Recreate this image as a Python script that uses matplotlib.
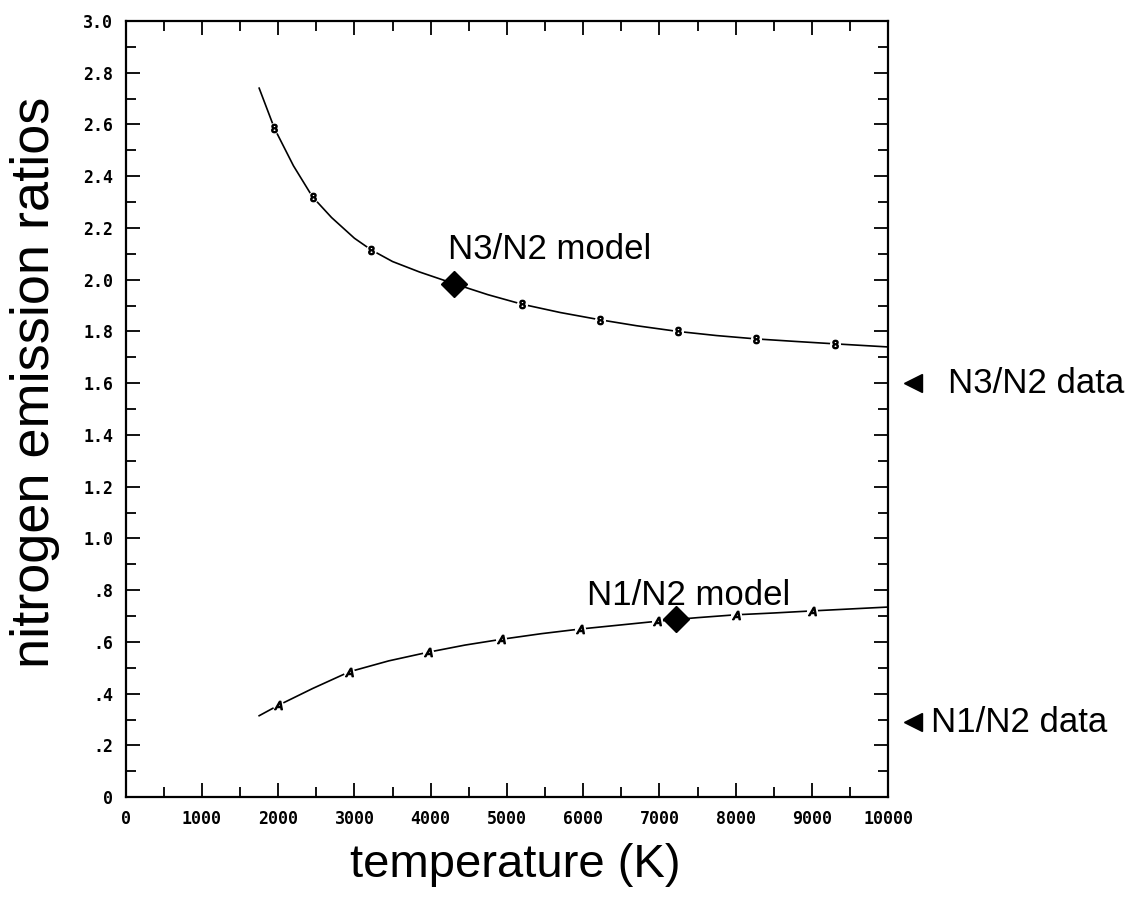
import matplotlib
matplotlib.use('Agg')
import matplotlib.pyplot as plt
from matplotlib.ticker import MultipleLocator, FixedLocator, FixedFormatter

# values
n3_temp = [1750, 1950, 2200, 2450, 2700, 3000, 3220, 3500, 3850, 4300, 4750, 5200,
           5700, 6220, 6700, 7240, 7750, 8270, 8800, 9300, 10000]
n3_ratio = [2.74, 2.585, 2.44, 2.32, 2.24, 2.16, 2.115, 2.07, 2.03, 1.985, 1.942, 1.905,
            1.873, 1.845, 1.822, 1.80, 1.784, 1.771, 1.761, 1.752, 1.74]
n3_mark_t = [1950, 2450, 3220, 5200, 6220, 7240, 8270, 9300]
n3_mark_r = [2.585, 2.32, 2.115, 1.905, 1.845, 1.80, 1.771, 1.752]

n1_temp = [1750, 2000, 2450, 2935, 3450, 3960, 4450, 4920, 5450, 5960, 6970, 7220,
           7500, 8000, 8500, 9000, 10000]
n1_ratio = [0.315, 0.355, 0.42, 0.485, 0.527, 0.56, 0.588, 0.61, 0.632, 0.65, 0.68, 0.687,
            0.694, 0.705, 0.712, 0.72, 0.735]
n1_mark_t = [2000, 2935, 3960, 4920, 5960, 6970, 8000, 9000]
n1_mark_r = [0.355, 0.485, 0.56, 0.61, 0.65, 0.68, 0.705, 0.72]

# model points (big diamonds) and measured data (arrows at right edge)
model_t = [4300, 7220]
model_r = [1.985, 0.69]
data_r = [1.6, 0.29]
data_names = ['N3/N2 data', 'N1/N2 data']

ytick_vals = [0, 0.2, 0.4, 0.6, 0.8, 1.0, 1.2, 1.4, 1.6, 1.8, 2.0, 2.2, 2.4, 2.6, 2.8, 3.0]
ytick_labels = ['0', '.2', '.4', '.6', '.8', '1.0', '1.2', '1.4', '1.6', '1.8',
                '2.0', '2.2', '2.4', '2.6', '2.8', '3.0']
xtick_vals = list(range(0, 10001, 1000))

plt.rcParams['font.family'] = ['Liberation Sans', 'DejaVu Sans']

fig = plt.figure(figsize=(11.43, 9.07), dpi=100)
ax = fig.add_axes([0.110, 0.121, 0.667, 0.856])

ax.plot(n3_temp, n3_ratio, color='black', lw=1.2, zorder=2)
ax.plot(n1_temp, n1_ratio, color='black', lw=1.2, zorder=2)

# little plotter symbols sitting in gaps of the curves
ax.plot(n3_mark_t, n3_mark_r, ls='none', marker='o', ms=8, mfc='white', mec='none', zorder=3)
ax.plot(n1_mark_t, n1_mark_r, ls='none', marker='o', ms=8, mfc='white', mec='none', zorder=3)
ax.plot(n3_mark_t, n3_mark_r, ls='none', marker='$8$', ms=6, color='black', zorder=4)
ax.plot(n1_mark_t, n1_mark_r, ls='none', marker='$A$', ms=6, color='black', zorder=4)

ax.plot(model_t, model_r, ls='none', marker='D', ms=13, color='black', zorder=5)

ax.plot([10330] * len(data_r), data_r, ls='none', marker='<', ms=13, color='black',
        clip_on=False, zorder=5)
ax.text(10780, data_r[0], data_names[0], fontsize=25, ha='left', va='center')
ax.text(10560, data_r[1], data_names[1], fontsize=25, ha='left', va='center')

ax.text(4230, 2.08, 'N3/N2 model', fontsize=25, ha='left', va='baseline')
ax.text(6050, 0.742, 'N1/N2 model', fontsize=25, ha='left', va='baseline')

ax.set_xlim(0, 10000)
ax.set_ylim(0, 3.0)

ax.xaxis.set_major_locator(FixedLocator(xtick_vals))
ax.xaxis.set_minor_locator(MultipleLocator(500))
ax.yaxis.set_major_locator(FixedLocator(ytick_vals))
ax.yaxis.set_major_formatter(FixedFormatter(ytick_labels))
ax.yaxis.set_minor_locator(MultipleLocator(0.1))

ax.tick_params(which='both', direction='in', top=True, right=True, width=1.3, colors='black')
ax.tick_params(which='major', length=10, pad=9)
ax.tick_params(which='minor', length=7)
for lab in ax.get_xticklabels() + ax.get_yticklabels():
    lab.set_family('DejaVu Sans Mono')
    lab.set_fontweight('bold')
    lab.set_fontsize(12)

for sp in ax.spines.values():
    sp.set_linewidth(1.6)

fig.text(0.031, 0.578, 'nitrogen emission ratios', fontsize=39, rotation=90,
         ha='center', va='center')
fig.text(0.451, 0.046, 'temperature (K)', fontsize=34, ha='center', va='center')

fig.savefig('out.png', dpi=100)
